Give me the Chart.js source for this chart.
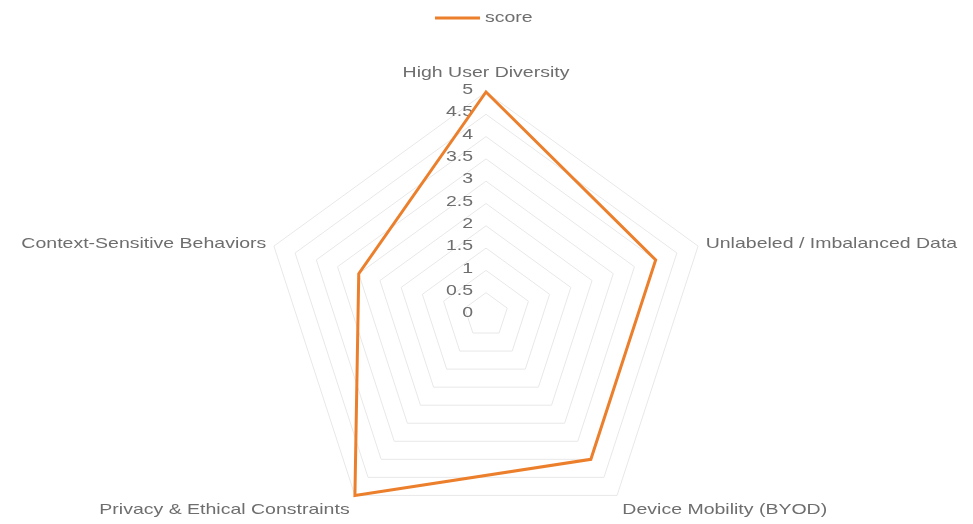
<!DOCTYPE html>
<html>
<head>
<meta charset="utf-8">
<script src="https://cdn.jsdelivr.net/npm/chart.js@4.4.0/dist/chart.umd.min.js"></script>
<style>
  html, body { margin: 0; padding: 0; background: #fff; overflow: hidden; }
  /* a bit taller than the window so the radar reaches down to the labels */
  #wrap { width: 973px; height: 538px; }
</style>
</head>
<body>
<div id="wrap"><canvas id="myChart"></canvas></div>
<script>
const categories = [
  'High User Diversity',
  'Unlabeled / Imbalanced Data',
  'Device Mobility (BYOD)',
  'Privacy & Ethical Constraints',
  'Context-Sensitive Behaviors'
];
const scores = [5, 4, 4, 5, 3];
const tickValues = [0, 0.5, 1, 1.5, 2, 2.5, 3, 3.5, 4, 4.5, 5];

const FONT = '15px "Liberation Sans", Arial, sans-serif';
const STRETCH = 1.3; // the reference text is drawn wide
const TEXT_COLOR = '#6e6e6e';

function wideText(ctx, text, x, y, align, baseline) {
  ctx.save();
  ctx.translate(x, y);
  ctx.scale(STRETCH, 1);
  ctx.textAlign = align;
  ctx.textBaseline = baseline;
  ctx.fillText(text, 0, 0);
  ctx.restore();
}

// tick labels right aligned just left of the vertical axis, under the line
const tickLabels = {
  id: 'tickLabels',
  beforeDatasetsDraw(chart) {
    const scale = chart.scales.r;
    const ctx = chart.ctx;
    ctx.save();
    ctx.font = FONT;
    ctx.fillStyle = TEXT_COLOR;
    tickValues.forEach(v => {
      const d = scale.getDistanceFromCenterForValue(v);
      wideText(ctx, String(v), scale.xCenter - 13, scale.yCenter - d - 2, 'right', 'middle');
    });
    ctx.restore();
  }
};

// point labels and the legend
const labelsAndLegend = {
  id: 'labelsAndLegend',
  afterDraw(chart) {
    const scale = chart.scales.r;
    const ctx = chart.ctx;
    ctx.save();
    ctx.font = FONT;
    ctx.fillStyle = TEXT_COLOR;
    categories.forEach((label, i) => {
      const pad = i === 0 ? 12 : (i === 1 || i === 4 ? 8 : 9);
      const p = scale.getPointPosition(i, scale.drawingArea + pad);
      const dx = p.x - scale.xCenter;
      const align = Math.abs(dx) < 2 ? 'center' : (dx > 0 ? 'left' : 'right');
      let baseline = 'middle';
      if (i === 0) baseline = 'bottom';
      else if (p.y > scale.yCenter + scale.drawingArea * 0.5) baseline = 'top';
      wideText(ctx, label, p.x, p.y, align, baseline);
    });

    // legend
    const ds = chart.data.datasets[0];
    ctx.strokeStyle = ds.borderColor;
    ctx.lineWidth = 3;
    ctx.beginPath();
    ctx.moveTo(435, 18);
    ctx.lineTo(480, 18);
    ctx.stroke();
    wideText(ctx, ds.label, 485, 18, 'left', 'middle');
    ctx.restore();
  }
};

const config = {
  type: 'radar',
  data: {
    labels: categories,
    datasets: [{
      label: 'score',
      data: scores,
      fill: false,
      borderColor: '#EC7F2C',
      backgroundColor: '#EC7F2C',
      borderWidth: 3,
      pointRadius: 0,
      pointHoverRadius: 0,
      tension: 0
    }]
  },
  options: {
    responsive: true,
    maintainAspectRatio: false,
    animation: false,
    layout: { padding: { top: 92, bottom: 0, left: 0, right: 0 } },
    plugins: {
      legend: { display: false },
      tooltip: { enabled: false }
    },
    scales: {
      r: {
        min: 0,
        max: 5,
        ticks: { stepSize: 0.5, display: false },
        grid: { color: '#e8e8e8', lineWidth: 1 },
        angleLines: { display: false },
        pointLabels: { display: false }
      }
    }
  },
  plugins: [tickLabels, labelsAndLegend]
};

new Chart(document.querySelector('#myChart'), config);
</script>
</body>
</html>
